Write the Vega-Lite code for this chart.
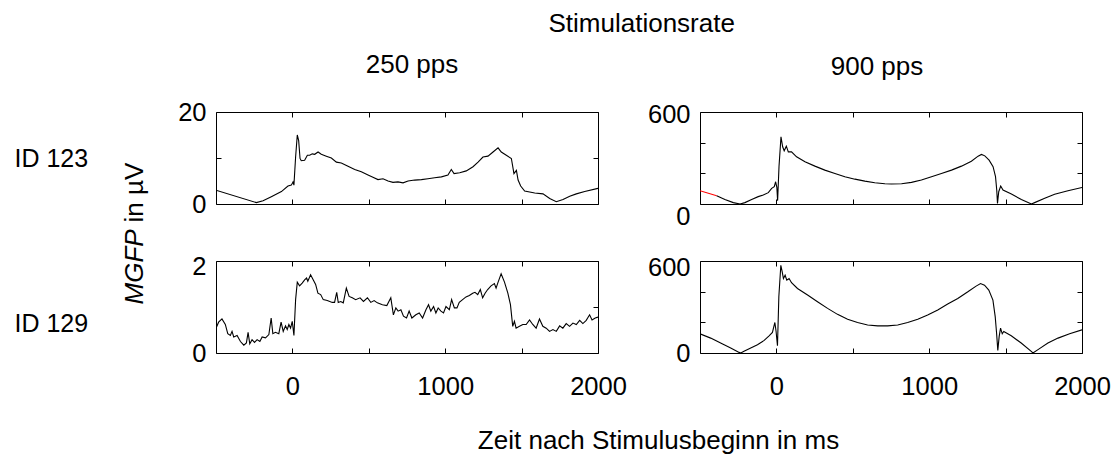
{
  "$schema": "https://vega.github.io/schema/vega-lite/v6.json",
  "padding": {"left": 13, "top": 10, "right": 0, "bottom": 0},
  "background": "white",
  "title": {"text": "Stimulationsrate", "anchor": "start", "dx": 535, "offset": 15, "font": "Liberation Sans", "fontSize": 26, "fontWeight": "normal", "color": "black"},
  "data": {"values": [
    {"p":"TL","t":-500,"v":3.0,"c":"k"},{"p":"TL","t":-236,"v":0.3,"c":"k"},{"p":"TL","t":-192,"v":0.7,"c":"k"},{"p":"TL","t":-138,"v":1.6,"c":"k"},{"p":"TL","t":-72,"v":2.7,"c":"k"},{"p":"TL","t":-29,"v":3.9,"c":"k"},{"p":"TL","t":-7,"v":4.1,"c":"k"},{"p":"TL","t":4,"v":4.8,"c":"k"},{"p":"TL","t":10,"v":4.1,"c":"k"},{"p":"TL","t":21,"v":10.2,"c":"k"},{"p":"TL","t":32,"v":15.0,"c":"k"},{"p":"TL","t":41,"v":13.8,"c":"k"},{"p":"TL","t":50,"v":9.9,"c":"k"},{"p":"TL","t":58,"v":9.4,"c":"k"},{"p":"TL","t":80,"v":9.5,"c":"k"},{"p":"TL","t":98,"v":10.6,"c":"k"},{"p":"TL","t":113,"v":10.6,"c":"k"},{"p":"TL","t":130,"v":10.9,"c":"k"},{"p":"TL","t":146,"v":10.8,"c":"k"},{"p":"TL","t":168,"v":11.3,"c":"k"},{"p":"TL","t":189,"v":10.8,"c":"k"},{"p":"TL","t":222,"v":10.4,"c":"k"},{"p":"TL","t":255,"v":10.0,"c":"k"},{"p":"TL","t":288,"v":9.1,"c":"k"},{"p":"TL","t":320,"v":8.9,"c":"k"},{"p":"TL","t":364,"v":8.2,"c":"k"},{"p":"TL","t":408,"v":7.5,"c":"k"},{"p":"TL","t":451,"v":7.0,"c":"k"},{"p":"TL","t":495,"v":6.3,"c":"k"},{"p":"TL","t":527,"v":5.8,"c":"k"},{"p":"TL","t":560,"v":5.3,"c":"k"},{"p":"TL","t":593,"v":5.5,"c":"k"},{"p":"TL","t":626,"v":5.0,"c":"k"},{"p":"TL","t":658,"v":4.7,"c":"k"},{"p":"TL","t":691,"v":4.8,"c":"k"},{"p":"TL","t":724,"v":4.6,"c":"k"},{"p":"TL","t":757,"v":5.0,"c":"k"},{"p":"TL","t":800,"v":5.2,"c":"k"},{"p":"TL","t":844,"v":5.3,"c":"k"},{"p":"TL","t":887,"v":5.5,"c":"k"},{"p":"TL","t":931,"v":5.7,"c":"k"},{"p":"TL","t":975,"v":5.9,"c":"k"},{"p":"TL","t":1018,"v":6.3,"c":"k"},{"p":"TL","t":1040,"v":7.5,"c":"k"},{"p":"TL","t":1058,"v":6.6,"c":"k"},{"p":"TL","t":1095,"v":6.8,"c":"k"},{"p":"TL","t":1138,"v":7.2,"c":"k"},{"p":"TL","t":1182,"v":8.1,"c":"k"},{"p":"TL","t":1215,"v":9.1,"c":"k"},{"p":"TL","t":1247,"v":10.2,"c":"k"},{"p":"TL","t":1280,"v":10.4,"c":"k"},{"p":"TL","t":1313,"v":11.3,"c":"k"},{"p":"TL","t":1346,"v":12.2,"c":"k"},{"p":"TL","t":1367,"v":11.3,"c":"k"},{"p":"TL","t":1400,"v":10.6,"c":"k"},{"p":"TL","t":1433,"v":9.9,"c":"k"},{"p":"TL","t":1450,"v":6.6,"c":"k"},{"p":"TL","t":1466,"v":7.3,"c":"k"},{"p":"TL","t":1477,"v":5.2,"c":"k"},{"p":"TL","t":1494,"v":3.9,"c":"k"},{"p":"TL","t":1520,"v":2.8,"c":"k"},{"p":"TL","t":1586,"v":2.4,"c":"k"},{"p":"TL","t":1640,"v":2.2,"c":"k"},{"p":"TL","t":1684,"v":1.2,"c":"k"},{"p":"TL","t":1727,"v":0.5,"c":"k"},{"p":"TL","t":1771,"v":1.0,"c":"k"},{"p":"TL","t":1815,"v":1.7,"c":"k"},{"p":"TL","t":1858,"v":2.2,"c":"k"},{"p":"TL","t":1913,"v":2.7,"c":"k"},{"p":"TL","t":2000,"v":3.4,"c":"k"},

    {"p":"TR","t":-500,"v":87,"c":"r"},{"p":"TR","t":-391,"v":54,"c":"r"},
    {"p":"TR","t":-391,"v":54,"c":"k"},{"p":"TR","t":-337,"v":30,"c":"k"},{"p":"TR","t":-282,"v":9,"c":"k"},{"p":"TR","t":-238,"v":0,"c":"k"},{"p":"TR","t":-206,"v":9,"c":"k"},{"p":"TR","t":-162,"v":30,"c":"k"},{"p":"TR","t":-119,"v":48,"c":"k"},{"p":"TR","t":-86,"v":58,"c":"k"},{"p":"TR","t":-53,"v":74,"c":"k"},{"p":"TR","t":-31,"v":102,"c":"k"},{"p":"TR","t":-14,"v":113,"c":"k"},{"p":"TR","t":-5,"v":145,"c":"k"},{"p":"TR","t":3,"v":108,"c":"k"},{"p":"TR","t":8,"v":22,"c":"k"},{"p":"TR","t":17,"v":243,"c":"k"},{"p":"TR","t":30,"v":438,"c":"k"},{"p":"TR","t":41,"v":373,"c":"k"},{"p":"TR","t":51,"v":347,"c":"k"},{"p":"TR","t":65,"v":377,"c":"k"},{"p":"TR","t":78,"v":340,"c":"k"},{"p":"TR","t":99,"v":340,"c":"k"},{"p":"TR","t":132,"v":308,"c":"k"},{"p":"TR","t":187,"v":275,"c":"k"},{"p":"TR","t":252,"v":247,"c":"k"},{"p":"TR","t":317,"v":221,"c":"k"},{"p":"TR","t":383,"v":199,"c":"k"},{"p":"TR","t":448,"v":178,"c":"k"},{"p":"TR","t":514,"v":162,"c":"k"},{"p":"TR","t":579,"v":149,"c":"k"},{"p":"TR","t":644,"v":139,"c":"k"},{"p":"TR","t":710,"v":132,"c":"k"},{"p":"TR","t":753,"v":130,"c":"k"},{"p":"TR","t":819,"v":132,"c":"k"},{"p":"TR","t":884,"v":141,"c":"k"},{"p":"TR","t":949,"v":156,"c":"k"},{"p":"TR","t":1015,"v":178,"c":"k"},{"p":"TR","t":1080,"v":199,"c":"k"},{"p":"TR","t":1146,"v":221,"c":"k"},{"p":"TR","t":1211,"v":247,"c":"k"},{"p":"TR","t":1276,"v":279,"c":"k"},{"p":"TR","t":1320,"v":312,"c":"k"},{"p":"TR","t":1342,"v":323,"c":"k"},{"p":"TR","t":1364,"v":314,"c":"k"},{"p":"TR","t":1392,"v":286,"c":"k"},{"p":"TR","t":1418,"v":243,"c":"k"},{"p":"TR","t":1434,"v":178,"c":"k"},{"p":"TR","t":1442,"v":91,"c":"k"},{"p":"TR","t":1447,"v":4,"c":"k"},{"p":"TR","t":1455,"v":80,"c":"k"},{"p":"TR","t":1468,"v":117,"c":"k"},{"p":"TR","t":1483,"v":91,"c":"k"},{"p":"TR","t":1538,"v":65,"c":"k"},{"p":"TR","t":1603,"v":30,"c":"k"},{"p":"TR","t":1669,"v":0,"c":"k"},{"p":"TR","t":1690,"v":9,"c":"k"},{"p":"TR","t":1756,"v":37,"c":"k"},{"p":"TR","t":1821,"v":63,"c":"k"},{"p":"TR","t":1908,"v":87,"c":"k"},{"p":"TR","t":2000,"v":108,"c":"k"},

    {"p":"BL","t":-500,"v":0.54,"c":"k"},{"p":"BL","t":-483,"v":0.67,"c":"k"},{"p":"BL","t":-461,"v":0.74,"c":"k"},{"p":"BL","t":-439,"v":0.62,"c":"k"},{"p":"BL","t":-423,"v":0.42,"c":"k"},{"p":"BL","t":-406,"v":0.38,"c":"k"},{"p":"BL","t":-395,"v":0.47,"c":"k"},{"p":"BL","t":-384,"v":0.35,"c":"k"},{"p":"BL","t":-362,"v":0.38,"c":"k"},{"p":"BL","t":-340,"v":0.25,"c":"k"},{"p":"BL","t":-318,"v":0.17,"c":"k"},{"p":"BL","t":-301,"v":0.22,"c":"k"},{"p":"BL","t":-290,"v":0.45,"c":"k"},{"p":"BL","t":-279,"v":0.20,"c":"k"},{"p":"BL","t":-264,"v":0.29,"c":"k"},{"p":"BL","t":-248,"v":0.23,"c":"k"},{"p":"BL","t":-231,"v":0.29,"c":"k"},{"p":"BL","t":-213,"v":0.25,"c":"k"},{"p":"BL","t":-198,"v":0.35,"c":"k"},{"p":"BL","t":-176,"v":0.33,"c":"k"},{"p":"BL","t":-154,"v":0.40,"c":"k"},{"p":"BL","t":-139,"v":0.76,"c":"k"},{"p":"BL","t":-128,"v":0.42,"c":"k"},{"p":"BL","t":-111,"v":0.45,"c":"k"},{"p":"BL","t":-89,"v":0.42,"c":"k"},{"p":"BL","t":-74,"v":0.67,"c":"k"},{"p":"BL","t":-60,"v":0.47,"c":"k"},{"p":"BL","t":-45,"v":0.59,"c":"k"},{"p":"BL","t":-34,"v":0.51,"c":"k"},{"p":"BL","t":-23,"v":0.62,"c":"k"},{"p":"BL","t":-12,"v":0.54,"c":"k"},{"p":"BL","t":-1,"v":0.69,"c":"k"},{"p":"BL","t":10,"v":0.38,"c":"k"},{"p":"BL","t":21,"v":1.16,"c":"k"},{"p":"BL","t":32,"v":1.54,"c":"k"},{"p":"BL","t":47,"v":1.46,"c":"k"},{"p":"BL","t":64,"v":1.52,"c":"k"},{"p":"BL","t":80,"v":1.59,"c":"k"},{"p":"BL","t":93,"v":1.63,"c":"k"},{"p":"BL","t":101,"v":1.56,"c":"k"},{"p":"BL","t":119,"v":1.70,"c":"k"},{"p":"BL","t":136,"v":1.59,"c":"k"},{"p":"BL","t":152,"v":1.49,"c":"k"},{"p":"BL","t":167,"v":1.30,"c":"k"},{"p":"BL","t":185,"v":1.27,"c":"k"},{"p":"BL","t":202,"v":1.16,"c":"k"},{"p":"BL","t":228,"v":1.14,"c":"k"},{"p":"BL","t":261,"v":1.10,"c":"k"},{"p":"BL","t":276,"v":1.10,"c":"k"},{"p":"BL","t":290,"v":1.32,"c":"k"},{"p":"BL","t":300,"v":1.10,"c":"k"},{"p":"BL","t":316,"v":1.12,"c":"k"},{"p":"BL","t":333,"v":1.09,"c":"k"},{"p":"BL","t":353,"v":1.41,"c":"k"},{"p":"BL","t":371,"v":1.23,"c":"k"},{"p":"BL","t":392,"v":1.20,"c":"k"},{"p":"BL","t":414,"v":1.16,"c":"k"},{"p":"BL","t":443,"v":1.20,"c":"k"},{"p":"BL","t":465,"v":1.12,"c":"k"},{"p":"BL","t":491,"v":1.20,"c":"k"},{"p":"BL","t":513,"v":1.10,"c":"k"},{"p":"BL","t":535,"v":1.14,"c":"k"},{"p":"BL","t":556,"v":1.09,"c":"k"},{"p":"BL","t":589,"v":1.05,"c":"k"},{"p":"BL","t":618,"v":1.03,"c":"k"},{"p":"BL","t":644,"v":1.20,"c":"k"},{"p":"BL","t":661,"v":0.83,"c":"k"},{"p":"BL","t":677,"v":0.98,"c":"k"},{"p":"BL","t":692,"v":0.91,"c":"k"},{"p":"BL","t":710,"v":0.94,"c":"k"},{"p":"BL","t":727,"v":0.80,"c":"k"},{"p":"BL","t":747,"v":0.76,"c":"k"},{"p":"BL","t":764,"v":0.91,"c":"k"},{"p":"BL","t":782,"v":0.76,"c":"k"},{"p":"BL","t":808,"v":0.83,"c":"k"},{"p":"BL","t":830,"v":0.87,"c":"k"},{"p":"BL","t":852,"v":0.76,"c":"k"},{"p":"BL","t":874,"v":0.94,"c":"k"},{"p":"BL","t":891,"v":1.05,"c":"k"},{"p":"BL","t":906,"v":0.91,"c":"k"},{"p":"BL","t":924,"v":1.01,"c":"k"},{"p":"BL","t":939,"v":0.87,"c":"k"},{"p":"BL","t":954,"v":0.98,"c":"k"},{"p":"BL","t":972,"v":0.91,"c":"k"},{"p":"BL","t":989,"v":0.87,"c":"k"},{"p":"BL","t":1005,"v":1.01,"c":"k"},{"p":"BL","t":1027,"v":0.94,"c":"k"},{"p":"BL","t":1042,"v":1.16,"c":"k"},{"p":"BL","t":1060,"v":0.98,"c":"k"},{"p":"BL","t":1077,"v":0.98,"c":"k"},{"p":"BL","t":1092,"v":1.10,"c":"k"},{"p":"BL","t":1114,"v":1.16,"c":"k"},{"p":"BL","t":1136,"v":1.22,"c":"k"},{"p":"BL","t":1158,"v":1.25,"c":"k"},{"p":"BL","t":1180,"v":1.30,"c":"k"},{"p":"BL","t":1195,"v":1.32,"c":"k"},{"p":"BL","t":1213,"v":1.27,"c":"k"},{"p":"BL","t":1230,"v":1.38,"c":"k"},{"p":"BL","t":1245,"v":1.20,"c":"k"},{"p":"BL","t":1261,"v":1.30,"c":"k"},{"p":"BL","t":1278,"v":1.38,"c":"k"},{"p":"BL","t":1300,"v":1.46,"c":"k"},{"p":"BL","t":1322,"v":1.51,"c":"k"},{"p":"BL","t":1333,"v":1.41,"c":"k"},{"p":"BL","t":1344,"v":1.52,"c":"k"},{"p":"BL","t":1366,"v":1.72,"c":"k"},{"p":"BL","t":1388,"v":1.54,"c":"k"},{"p":"BL","t":1410,"v":1.30,"c":"k"},{"p":"BL","t":1427,"v":1.05,"c":"k"},{"p":"BL","t":1442,"v":0.58,"c":"k"},{"p":"BL","t":1453,"v":0.69,"c":"k"},{"p":"BL","t":1464,"v":0.54,"c":"k"},{"p":"BL","t":1486,"v":0.58,"c":"k"},{"p":"BL","t":1508,"v":0.62,"c":"k"},{"p":"BL","t":1530,"v":0.62,"c":"k"},{"p":"BL","t":1552,"v":0.72,"c":"k"},{"p":"BL","t":1573,"v":0.62,"c":"k"},{"p":"BL","t":1595,"v":0.54,"c":"k"},{"p":"BL","t":1617,"v":0.74,"c":"k"},{"p":"BL","t":1639,"v":0.58,"c":"k"},{"p":"BL","t":1661,"v":0.54,"c":"k"},{"p":"BL","t":1683,"v":0.47,"c":"k"},{"p":"BL","t":1705,"v":0.51,"c":"k"},{"p":"BL","t":1727,"v":0.47,"c":"k"},{"p":"BL","t":1749,"v":0.59,"c":"k"},{"p":"BL","t":1770,"v":0.54,"c":"k"},{"p":"BL","t":1792,"v":0.64,"c":"k"},{"p":"BL","t":1814,"v":0.58,"c":"k"},{"p":"BL","t":1836,"v":0.65,"c":"k"},{"p":"BL","t":1858,"v":0.62,"c":"k"},{"p":"BL","t":1880,"v":0.71,"c":"k"},{"p":"BL","t":1901,"v":0.64,"c":"k"},{"p":"BL","t":1923,"v":0.71,"c":"k"},{"p":"BL","t":1945,"v":0.83,"c":"k"},{"p":"BL","t":1961,"v":0.72,"c":"k"},{"p":"BL","t":1982,"v":0.76,"c":"k"},{"p":"BL","t":2000,"v":0.78,"c":"k"},

    {"p":"BR","t":-500,"v":125,"c":"k"},{"p":"BR","t":-430,"v":97,"c":"k"},{"p":"BR","t":-365,"v":65,"c":"k"},{"p":"BR","t":-299,"v":32,"c":"k"},{"p":"BR","t":-244,"v":4,"c":"k"},{"p":"BR","t":-233,"v":0,"c":"k"},{"p":"BR","t":-212,"v":11,"c":"k"},{"p":"BR","t":-168,"v":32,"c":"k"},{"p":"BR","t":-124,"v":54,"c":"k"},{"p":"BR","t":-80,"v":82,"c":"k"},{"p":"BR","t":-48,"v":112,"c":"k"},{"p":"BR","t":-26,"v":134,"c":"k"},{"p":"BR","t":-10,"v":199,"c":"k"},{"p":"BR","t":-2,"v":140,"c":"k"},{"p":"BR","t":7,"v":47,"c":"k"},{"p":"BR","t":16,"v":367,"c":"k"},{"p":"BR","t":29,"v":572,"c":"k"},{"p":"BR","t":38,"v":529,"c":"k"},{"p":"BR","t":46,"v":486,"c":"k"},{"p":"BR","t":57,"v":507,"c":"k"},{"p":"BR","t":68,"v":475,"c":"k"},{"p":"BR","t":83,"v":486,"c":"k"},{"p":"BR","t":99,"v":458,"c":"k"},{"p":"BR","t":138,"v":421,"c":"k"},{"p":"BR","t":204,"v":378,"c":"k"},{"p":"BR","t":269,"v":334,"c":"k"},{"p":"BR","t":335,"v":291,"c":"k"},{"p":"BR","t":400,"v":252,"c":"k"},{"p":"BR","t":466,"v":220,"c":"k"},{"p":"BR","t":531,"v":199,"c":"k"},{"p":"BR","t":597,"v":183,"c":"k"},{"p":"BR","t":663,"v":177,"c":"k"},{"p":"BR","t":728,"v":177,"c":"k"},{"p":"BR","t":794,"v":183,"c":"k"},{"p":"BR","t":859,"v":199,"c":"k"},{"p":"BR","t":925,"v":220,"c":"k"},{"p":"BR","t":990,"v":248,"c":"k"},{"p":"BR","t":1056,"v":281,"c":"k"},{"p":"BR","t":1121,"v":319,"c":"k"},{"p":"BR","t":1187,"v":356,"c":"k"},{"p":"BR","t":1253,"v":399,"c":"k"},{"p":"BR","t":1307,"v":436,"c":"k"},{"p":"BR","t":1336,"v":453,"c":"k"},{"p":"BR","t":1362,"v":442,"c":"k"},{"p":"BR","t":1390,"v":410,"c":"k"},{"p":"BR","t":1417,"v":345,"c":"k"},{"p":"BR","t":1432,"v":237,"c":"k"},{"p":"BR","t":1441,"v":129,"c":"k"},{"p":"BR","t":1449,"v":17,"c":"k"},{"p":"BR","t":1458,"v":108,"c":"k"},{"p":"BR","t":1467,"v":162,"c":"k"},{"p":"BR","t":1478,"v":125,"c":"k"},{"p":"BR","t":1488,"v":140,"c":"k"},{"p":"BR","t":1537,"v":112,"c":"k"},{"p":"BR","t":1602,"v":65,"c":"k"},{"p":"BR","t":1668,"v":11,"c":"k"},{"p":"BR","t":1679,"v":0,"c":"k"},{"p":"BR","t":1712,"v":22,"c":"k"},{"p":"BR","t":1777,"v":65,"c":"k"},{"p":"BR","t":1843,"v":97,"c":"k"},{"p":"BR","t":1919,"v":125,"c":"k"},{"p":"BR","t":2000,"v":151,"c":"k"}
  ]},
  "bounds": "flush",
  "columns": 2,
  "spacing": {"column": 102, "row": 57},
  "concat": [
    {
      "width": 382, "height": 92,
      "title": {"text": "250 pps", "anchor": "middle", "frame": "group", "dx": 5, "offset": 1, "baseline": "alphabetic"},
      "transform": [{"filter": "datum.p == 'TL'"}],
      "layer": [
        {"mark": {"type": "line", "strokeWidth": 1.1, "clip": true},
         "encoding": {
           "x": {"field": "t", "type": "quantitative", "scale": {"domain": [-500, 2000], "nice": false},
                 "axis": {"orient": "bottom", "values": [0, 500, 1000, 1500, 2000], "labels": false, "title": null}},
           "y": {"field": "v", "type": "quantitative", "scale": {"domain": [0, 20], "nice": false},
                 "axis": {"orient": "left", "values": [0, 10, 20], "format": "d", "labelExpr": "datum.value == 10 ? '' : datum.label",
                          "title": "ID 123", "titleAngle": 0, "titleAlign": "left", "titleBaseline": "alphabetic", "titleX": -202, "titleY": 54, "titleFontSize": 25}},
           "color": {"field": "c", "type": "nominal", "scale": {"domain": ["r", "k"], "range": ["#ff0000", "#000000"]}, "legend": null}
         }},
        {"mark": {"type": "line", "opacity": 0},
         "encoding": {
           "x": {"field": "t", "type": "quantitative", "axis": {"orient": "top", "values": [0, 500, 1000, 1500, 2000], "labels": false, "title": null}},
           "y": {"field": "v", "type": "quantitative", "axis": {"orient": "right", "values": [0, 10, 20], "labels": false, "title": null}}
         }}
      ],
      "resolve": {"axis": {"x": "independent", "y": "independent"}}
    },
    {
      "width": 382, "height": 92,
      "title": {"text": "900 pps", "anchor": "middle", "frame": "group", "dx": -14, "offset": 1, "baseline": "alphabetic"},
      "transform": [{"filter": "datum.p == 'TR'"}],
      "layer": [
        {"mark": {"type": "line", "strokeWidth": 1.1, "clip": true},
         "encoding": {
           "x": {"field": "t", "type": "quantitative", "scale": {"domain": [-500, 2000], "nice": false},
                 "axis": {"orient": "bottom", "values": [0, 500, 1000, 1500, 2000], "labels": false, "title": null}},
           "y": {"field": "v", "type": "quantitative", "scale": {"domain": [0, 600], "nice": false},
                 "axis": {"orient": "left", "values": [0, 200, 400, 600], "format": "d", "labelExpr": "datum.value == 0 || datum.value == 600 ? datum.label : ''",
                          "labelOffset": {"condition": {"test": "datum.value == 0", "value": 12}, "value": 2},
                          "title": "MGFP", "titleFontStyle": "italic", "titleAngle": 270, "titleAlign": "left", "titleBaseline": "alphabetic", "titleX": -558, "titleY": 192}},
           "color": {"field": "c", "type": "nominal", "scale": {"domain": ["r", "k"], "range": ["#ff0000", "#000000"]}, "legend": null}
         }},
        {"mark": {"type": "line", "opacity": 0},
         "encoding": {
           "x": {"field": "t", "type": "quantitative", "axis": {"orient": "top", "values": [0, 500, 1000, 1500, 2000], "labels": false, "title": null}},
           "y": {"field": "v", "type": "quantitative", "axis": {"orient": "right", "values": [0, 200, 400, 600], "labels": false, "title": null}}
         }}
      ],
      "resolve": {"axis": {"x": "independent", "y": "independent"}}
    },
    {
      "width": 382, "height": 92,
      "transform": [{"filter": "datum.p == 'BL'"}],
      "layer": [
        {"mark": {"type": "line", "strokeWidth": 1.1, "clip": true},
         "encoding": {
           "x": {"field": "t", "type": "quantitative", "scale": {"domain": [-500, 2000], "nice": false},
                 "axis": {"orient": "bottom", "values": [0, 500, 1000, 1500, 2000], "format": "d", "labelExpr": "datum.value % 1000 == 0 ? datum.label : ''",
                          "title": "Zeit nach Stimulusbeginn in ms", "titleAlign": "center", "titleBaseline": "alphabetic", "titleX": 442, "titleY": 95}},
           "y": {"field": "v", "type": "quantitative", "scale": {"domain": [0, 2], "nice": false},
                 "axis": {"orient": "left", "values": [0, 1, 2], "format": "d", "labelExpr": "datum.value == 1 ? '' : datum.label",
                          "labelOffset": {"condition": {"test": "datum.value == 2", "value": 5}, "value": 0},
                          "title": "ID 129", "titleAngle": 0, "titleAlign": "left", "titleBaseline": "alphabetic", "titleX": -202, "titleY": 70, "titleFontSize": 25}},
           "color": {"field": "c", "type": "nominal", "scale": {"domain": ["r", "k"], "range": ["#ff0000", "#000000"]}, "legend": null}
         }},
        {"mark": {"type": "line", "opacity": 0},
         "encoding": {
           "x": {"field": "t", "type": "quantitative", "axis": {"orient": "top", "values": [0, 500, 1000, 1500, 2000], "labels": false, "title": null}},
           "y": {"field": "v", "type": "quantitative", "axis": {"orient": "right", "values": [0, 1, 2], "labels": false, "title": null}}
         }}
      ],
      "resolve": {"axis": {"x": "independent", "y": "independent"}}
    },
    {
      "width": 382, "height": 92,
      "transform": [{"filter": "datum.p == 'BR'"}],
      "layer": [
        {"mark": {"type": "line", "strokeWidth": 1.1, "clip": true},
         "encoding": {
           "x": {"field": "t", "type": "quantitative", "scale": {"domain": [-500, 2000], "nice": false},
                 "axis": {"orient": "bottom", "values": [0, 500, 1000, 1500, 2000], "format": "d", "labelExpr": "datum.value % 1000 == 0 ? datum.label : ''", "title": null}},
           "y": {"field": "v", "type": "quantitative", "scale": {"domain": [0, 600], "nice": false},
                 "axis": {"orient": "left", "values": [0, 200, 400, 600], "format": "d", "labelExpr": "datum.value == 0 || datum.value == 600 ? datum.label : ''",
                          "labelOffset": {"condition": {"test": "datum.value == 600", "value": 6}, "value": 0},
                          "title": "in µV", "titleAngle": 270, "titleAlign": "left", "titleBaseline": "alphabetic", "titleX": -558, "titleY": -39}},
           "color": {"field": "c", "type": "nominal", "scale": {"domain": ["r", "k"], "range": ["#ff0000", "#000000"]}, "legend": null}
         }},
        {"mark": {"type": "line", "opacity": 0},
         "encoding": {
           "x": {"field": "t", "type": "quantitative", "axis": {"orient": "top", "values": [0, 500, 1000, 1500, 2000], "labels": false, "title": null}},
           "y": {"field": "v", "type": "quantitative", "axis": {"orient": "right", "values": [0, 200, 400, 600], "labels": false, "title": null}}
         }}
      ],
      "resolve": {"axis": {"x": "independent", "y": "independent"}}
    }
  ],
  "config": {
    "font": "Liberation Sans",
    "view": {"stroke": "black", "strokeWidth": 1},
    "title": {"font": "Liberation Sans", "fontSize": 26, "fontWeight": "normal", "color": "black"},
    "axis": {"grid": false, "domain": false, "tickColor": "black", "tickSize": -5, "tickWidth": 1,
             "labelFont": "Liberation Sans", "labelFontSize": 25.5, "labelColor": "black", "labelFlush": false, "labelOverlap": false,
             "titleFont": "Liberation Sans", "titleFontSize": 26, "titleFontWeight": "normal", "titleColor": "black"},
    "axisX": {"labelPadding": 26},
    "axisY": {"labelPadding": 15}
  }
}
